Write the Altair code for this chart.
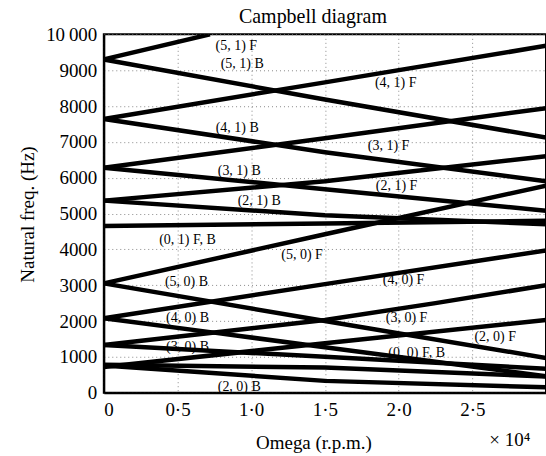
import altair as alt
import pandas as pd

# ---- data (Omega in r.p.m., natural frequency in Hz) ----
omega = [0, 15000, 30000]
omega_51F = [0, 7200]
omega_30F = [0, 7500, 15000, 22500, 30000]
omega_40B = [0, 7600, 15000, 30000]

f51F = [9300, 10000]
f51B = [9300, 8180, 7120]
f41F = [7640, 8660, 9680]
f41B = [7640, 6710, 5900]
f31F = [6280, 7100, 7940]
f31B = [6280, 5680, 5080]
f21F = [5360, 5900, 6600]
f21B = [5360, 4950, 4700]
f01 = [4650, 4720, 4800]
f50F = [3050, 4420, 5780]
f50B = [3050, 2000, 970]
f40F = [2080, 3030, 3970]
f40B = [2080, 1670, 1270, 460]
f30F = [1330, 1680, 2030, 2500, 3000]
f30B = [1330, 1000, 670]
f20F = [720, 1380, 2030]
f20B = [760, 330, 150]
f00 = [780, 700, 450]

branches = [
    ("(5,1)F", omega_51F, f51F), ("(5,1)B", omega, f51B),
    ("(4,1)F", omega, f41F), ("(4,1)B", omega, f41B),
    ("(3,1)F", omega, f31F), ("(3,1)B", omega, f31B),
    ("(2,1)F", omega, f21F), ("(2,1)B", omega, f21B),
    ("(0,1)", omega, f01),
    ("(5,0)F", omega, f50F), ("(5,0)B", omega, f50B),
    ("(4,0)F", omega, f40F), ("(4,0)B", omega_40B, f40B),
    ("(3,0)F", omega_30F, f30F), ("(3,0)B", omega, f30B),
    ("(2,0)F", omega, f20F), ("(2,0)B", omega, f20B),
    ("(0,0)", omega, f00),
]

label_text = ["(5, 1) F", "(5, 1) B", "(4, 1) F", "(4, 1) B", "(3, 1) F", "(3, 1) B",
              "(2, 1) F", "(2, 1) B", "(0, 1) F, B", "(5, 0) F", "(5, 0) B", "(4, 0) F",
              "(4, 0) B", "(3, 0) F", "(2, 0) F", "(3, 0) B", "(0, 0) F, B", "(2, 0) B"]
label_x = [8990, 9390, 19800, 9050, 19320, 9190, 19860, 10540, 5680, 13450, 5610, 20340,
           5680, 20540, 26550, 5680, 21220, 9190]
label_y = [9670, 9170, 8640, 7390, 6890, 6190, 5780, 5360, 4250, 3830, 3080, 3140,
           2080, 2080, 1560, 1280, 1110, 170]

rows = []
for name, xs, ys in branches:
    for i, (xv, yv) in enumerate(zip(xs, ys)):
        rows.append({"branch": name, "omega": xv, "freq": yv, "i": i})
df = pd.DataFrame(rows)
labels = pd.DataFrame({"text": label_text, "omega": label_x, "freq": label_y})

FONT = "Liberation Serif"

xscale = alt.Scale(domain=[0, 30000], nice=False, zero=False)
yscale = alt.Scale(domain=[0, 10000], nice=False)

common = dict(
    labelFont=FONT, labelFontSize=19, labelColor="black",
    titleFont=FONT, titleFontSize=19, titleFontWeight="normal", titleColor="black",
    grid=True, gridColor="#8a8a8a", gridDash=[1, 3], gridWidth=1,
    domainColor="black", domainWidth=2, tickSize=0, labelOverlap=False,
)

xaxis = alt.Axis(
    values=[0, 5000, 10000, 15000, 20000, 25000],
    labelExpr="datum.value == 0 ? '0' : replace(format(datum.value / 10000, '.1f'), '.', '·')",
    title="Omega (r.p.m.)", titleX=210, titleY=50, titleBaseline="middle",
    labelPadding=8, **common,
)
yaxis = alt.Axis(
    values=[0, 1000, 2000, 3000, 4000, 5000, 6000, 7000, 8000, 9000, 10000],
    labelExpr="datum.value == 10000 ? '10\u2009000' : format(datum.value, 'd')",
    title="Natural freq. (Hz)", titleX=-76, titleY=180, titleAngle=-90,
    titleAlign="center", titleBaseline="middle",
    labelPadding=7, **common,
)

lines = alt.Chart(df).mark_line(color="black", strokeWidth=4.5, clip=True).encode(
    x=alt.X("omega:Q", scale=xscale, axis=xaxis),
    y=alt.Y("freq:Q", scale=yscale, axis=yaxis),
    detail="branch:N",
    order="i:Q",
)

texts = alt.Chart(labels).mark_text(font=FONT, fontSize=14, color="black").encode(
    x=alt.X("omega:Q", scale=xscale, axis=xaxis),
    y=alt.Y("freq:Q", scale=yscale, axis=yaxis),
    text="text:N",
)

exponent = alt.Chart(pd.DataFrame({"t": ["× 10⁴"]})).mark_text(
    font=FONT, fontSize=19, color="black", align="left", baseline="middle", dy=47
).encode(
    x=alt.XDatum(26150, type="quantitative", scale=xscale, axis=xaxis),
    y=alt.YDatum(0, type="quantitative", scale=yscale, axis=yaxis),
    text="t:N",
)

chart = alt.layer(lines, texts, exponent).properties(
    width=443, height=359,
    background="white",
    title="Campbell diagram",
    autosize="none",
    padding={"left": 104, "top": 34, "right": 0, "bottom": 63},
).configure_view(stroke="black", strokeWidth=2).configure_title(
    font=FONT, fontSize=20, fontWeight="normal", anchor="middle", dx=-12, offset=-2,
    color="black", baseline="bottom"
)

chart.save("out.html", embed_options={"renderer": "svg", "actions": False})
